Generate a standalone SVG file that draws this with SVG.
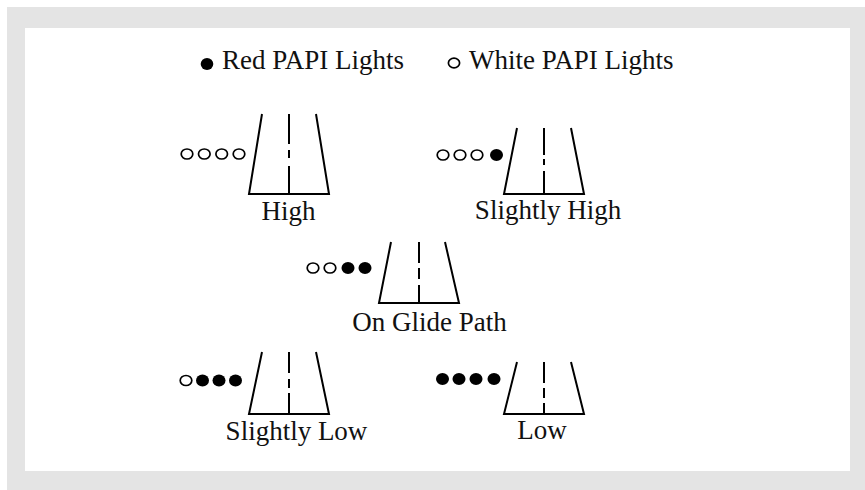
<svg xmlns="http://www.w3.org/2000/svg" width="865" height="490" viewBox="0 0 865 490">
<style>
.rw{stroke:#000;stroke-width:2;fill:none;stroke-linecap:butt}
.w{fill:#fff;stroke:#000;stroke-width:1.7}
.r{fill:#000}
.t{font-family:"Liberation Serif","Times New Roman",serif;font-size:27px;fill:#111}
</style>
<rect x="7" y="7" width="858" height="483" fill="#e4e4e4"/>
<rect x="25" y="28" width="825" height="443" fill="#fff"/>
<g id="legend">
<ellipse class="r" cx="207" cy="64" rx="6.3" ry="6"/>
<text class="t" x="222" y="69">Red PAPI Lights</text>
<ellipse class="w" cx="454" cy="63" rx="5.6" ry="4.8"/>
<text class="t" x="469" y="69">White PAPI Lights</text>
</g>
<g id="high">
<ellipse class="w" cx="187" cy="154" rx="5.8" ry="5"/>
<ellipse class="w" cx="204.3" cy="154" rx="5.8" ry="5"/>
<ellipse class="w" cx="221.7" cy="154" rx="5.8" ry="5"/>
<ellipse class="w" cx="239" cy="154" rx="5.8" ry="5"/>
<path class="rw" d="M262,114L249,194H329L316,114M289,114V144M289,150V158M289,166V194"/>
<text class="t" x="288.5" y="220" text-anchor="middle">High</text>
</g>
<g id="slightly-high">
<ellipse class="w" cx="443" cy="155" rx="5.8" ry="5"/>
<ellipse class="w" cx="460" cy="155" rx="5.8" ry="5"/>
<ellipse class="w" cx="477" cy="155" rx="5.8" ry="5"/>
<ellipse class="r" cx="496.5" cy="155" rx="6.5" ry="6"/>
<path class="rw" d="M517,128L504,194H584L571,128M544,128V155M544,159V165M544,171V194"/>
<text class="t" x="548" y="219" text-anchor="middle">Slightly High</text>
</g>
<g id="on-glide-path">
<ellipse class="w" cx="313" cy="268" rx="5.8" ry="5"/>
<ellipse class="w" cx="330" cy="268" rx="5.8" ry="5"/>
<ellipse class="r" cx="348" cy="268" rx="6.5" ry="6"/>
<ellipse class="r" cx="365" cy="268" rx="6.5" ry="6"/>
<path class="rw" d="M391,242L379,303H459L445,242M419,242V263M419,268V279M419,285V303"/>
<text class="t" x="429.5" y="331" text-anchor="middle">On Glide Path</text>
</g>
<g id="slightly-low">
<ellipse class="w" cx="186" cy="380.5" rx="5.8" ry="5"/>
<ellipse class="r" cx="202.5" cy="380.5" rx="6.5" ry="6"/>
<ellipse class="r" cx="219" cy="380.5" rx="6.5" ry="6"/>
<ellipse class="r" cx="235.5" cy="380.5" rx="6.5" ry="6"/>
<path class="rw" d="M262,352L249,414H329L316,352M289,352V373M289,379V388M289,393V414"/>
<text class="t" x="296.5" y="440" text-anchor="middle">Slightly Low</text>
</g>
<g id="low">
<ellipse class="r" cx="442.5" cy="379" rx="6.5" ry="6"/>
<ellipse class="r" cx="459" cy="379" rx="6.5" ry="6"/>
<ellipse class="r" cx="476" cy="379" rx="6.5" ry="6"/>
<ellipse class="r" cx="494" cy="379" rx="6.5" ry="6"/>
<path class="rw" d="M517,362L504,414H584L571,362M544,362V383M544,388V398M544,403V414"/>
<text class="t" x="542" y="439" text-anchor="middle">Low</text>
</g>
<g id="connectors"/>
</svg>
